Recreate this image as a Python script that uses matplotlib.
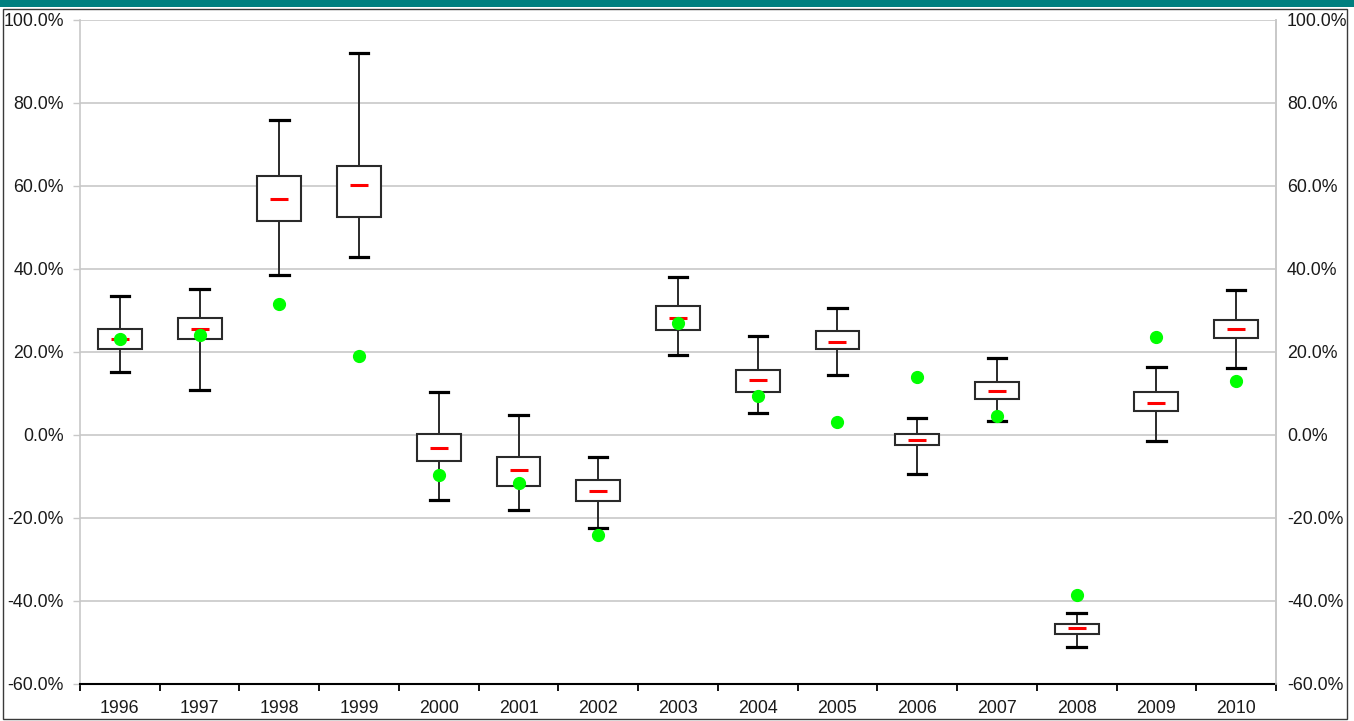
import matplotlib
matplotlib.use("Agg")
import matplotlib.pyplot as plt
from matplotlib.patches import Rectangle
from matplotlib.ticker import FuncFormatter, FixedLocator

plt.rcParams['font.family'] = ['Liberation Sans', 'DejaVu Sans']

years = ['1996', '1997', '1998', '1999', '2000', '2001', '2002', '2003',
         '2004', '2005', '2006', '2007', '2008', '2009', '2010']
whisker_high = [33.4, 35.2, 75.9, 92.0, 10.2, 4.7, -5.4, 38.0, 23.9, 30.6, 4.1, 18.4, -42.9, 16.3, 34.8]
box_high = [25.6, 28.1, 62.5, 64.9, 0.1, -5.3, -11.0, 31.0, 15.5, 24.9, 0.2, 12.7, -45.6, 10.3, 27.6]
median = [23.0, 25.4, 56.9, 60.2, -3.3, -8.4, -13.6, 28.2, 13.3, 22.4, -1.4, 10.5, -46.6, 7.7, 25.4]
box_low = [20.7, 23.1, 51.6, 52.4, -6.4, -12.3, -15.9, 25.3, 10.3, 20.7, -2.5, 8.5, -48.0, 5.8, 23.2]
whisker_low = [15.1, 10.8, 38.6, 42.8, -15.7, -18.1, -22.4, 19.1, 5.3, 14.4, -9.6, 3.2, -51.2, -1.5, 16.0]
actual = [23.0, 24.0, 31.5, 19.0, -9.7, -11.7, -24.3, 27.0, 9.3, 3.1, 13.9, 4.5, -38.6, 23.6, 12.9]

y_ticks = [-60, -40, -20, 0, 20, 40, 60, 80, 100]

W, H, DPI = 1354, 721, 100
FS = 12.8
fig = plt.figure(figsize=(W / DPI, H / DPI), dpi=DPI)
fig.patch.set_facecolor('white')

# teal header band and frame
fig.patches.append(Rectangle((0, 1 - 7 / H), 1, 7 / H, transform=fig.transFigure,
                             facecolor='#007f7f', edgecolor='none', zorder=0))
fig.patches.append(Rectangle((3 / W, 2 / H), 1344 / W, (712 - 2) / H, transform=fig.transFigure,
                             facecolor='none', edgecolor='#3a3a3a', linewidth=1.0, zorder=0))

ax = fig.add_axes([80 / W, 37.5 / H, (1276 - 80) / W, (683.5 - 20) / H])
ax.set_facecolor('white')

positions = list(range(len(years)))
stats = []
for i in positions:
    stats.append(dict(med=median[i], q1=box_low[i], q3=box_high[i],
                      whislo=whisker_low[i], whishi=whisker_high[i], fliers=[]))

ax.bxp(stats, positions=positions, widths=0.55, capwidths=0.23, patch_artist=True,
       showfliers=False,
       boxprops=dict(facecolor='white', edgecolor='#2a2a2a', linewidth=1.5),
       whiskerprops=dict(color='#2a2a2a', linewidth=1.4),
       capprops=dict(color='black', linewidth=2.3),
       medianprops=dict(visible=False), zorder=3)

ax.plot(positions, median, linestyle='none', marker='_', markersize=12.5,
        markeredgewidth=2.2, color='#ff0000', zorder=4)
ax.plot(positions, actual, linestyle='none', marker='o', markersize=8.5,
        markerfacecolor='#00ff00', markeredgecolor='#00ff00', zorder=5)

ax.set_xlim(-0.5, len(years) - 0.5)
ax.set_ylim(-60, 100)
ax.set_yticks(y_ticks)
fmt = FuncFormatter(lambda v, p: f"{v:.1f}%")
ax.yaxis.set_major_formatter(fmt)
ax.grid(axis='y', color='#c8c8c8', linewidth=1.2, zorder=0)
ax.set_axisbelow(True)

# x axis: ticks at category boundaries, labels at centres
ax.xaxis.set_major_locator(FixedLocator([p - 0.5 for p in positions] + [len(years) - 0.5]))
ax.xaxis.set_minor_locator(FixedLocator(positions))
ax.set_xticklabels([], minor=False)
ax.set_xticklabels(years, minor=True)
ax.tick_params(axis='x', which='major', direction='out', length=5, width=1.3, color='black')
ax.tick_params(axis='x', which='minor', length=0, pad=12, labelsize=FS, labelcolor='#1a1a1a')
ax.tick_params(axis='y', which='major', direction='out', length=5, width=1.0, color='#c8c8c8',
               pad=6.5, labelsize=FS, labelcolor='#1a1a1a')

ax.spines['top'].set_visible(False)
ax.spines['left'].set_color('#c8c8c8')
ax.spines['left'].set_linewidth(1.2)
ax.spines['right'].set_color('#c8c8c8')
ax.spines['right'].set_linewidth(1.2)
ax.spines['bottom'].set_color('black')
ax.spines['bottom'].set_linewidth(1.5)
ax.spines['bottom'].set_zorder(6)

ax2 = ax.twinx()
ax2.set_ylim(ax.get_ylim())
ax2.set_yticks(y_ticks)
ax2.yaxis.set_major_formatter(fmt)
ax2.tick_params(axis='y', length=0, pad=8, labelsize=FS, labelcolor='#1a1a1a')
for s in ['top', 'left', 'bottom']:
    ax2.spines[s].set_visible(False)
ax2.spines['right'].set_color('#c8c8c8')
ax2.spines['right'].set_linewidth(1.2)

fig.savefig('out.png', dpi=DPI, facecolor='white')
